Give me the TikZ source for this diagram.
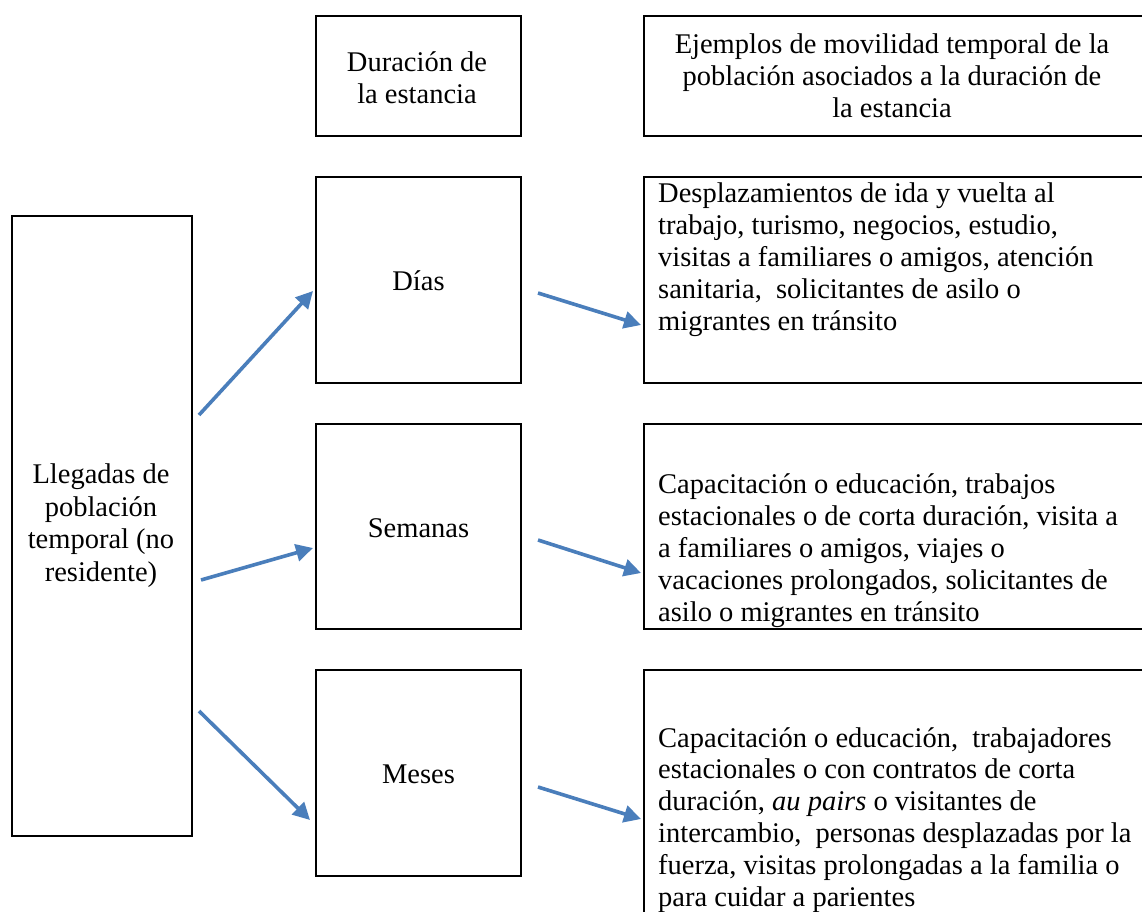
\documentclass[tikz,border=0pt]{standalone}
\usepackage{fontspec}
\setmainfont{Liberation Serif}
\usetikzlibrary{arrows.meta}
\definecolor{arrowblue}{RGB}{74,126,187}
\begin{document}
\begin{tikzpicture}[x=1pt,y=-1pt,
  box/.style={draw=black, line width=2pt, anchor=north west, inner sep=0pt, align=center,
    font=\fontsize{28.5}{32}\selectfont},
  txt/.style={anchor=base west, inner sep=0pt, align=left, font=\fontsize{28.5}{31.8}\selectfont},
  ctxt/.style={anchor=base, inner sep=0pt, align=center, font=\fontsize{28.5}{32}\selectfont},
  flow/.style={draw=arrowblue, line width=3.6pt, -{Triangle[length=17pt,width=17pt]}}]
\clip (0,0) rectangle (1142,911);
\fill[white] (0,0) rectangle (1142,911);

% header row (base anchor = baseline of the last line)
\node[box, minimum width=205pt, minimum height=120pt] (hdur) at (315,15) {};
\node[ctxt] (hdurt) at (417,103) {Duración de\\la estancia};
\node[box, minimum width=520pt, minimum height=120pt] (hej) at (643,15) {};
\node[ctxt, font=\fontsize{28.5}{31.6}\selectfont] (hejt) at (892,117) {Ejemplos de movilidad temporal de la\\población asociados a la duración de\\la estancia};

% left box
\node[box, minimum width=180pt, minimum height=620pt] (left) at (11,215) {};
\node[ctxt, font=\fontsize{28.5}{32.4}\selectfont] (leftt) at (101,581) {Llegadas de\\población\\temporal (no\\residente)};

% middle column
\node[box, minimum width=205pt, minimum height=206pt] (dias) at (315,176) {};
\node[ctxt] (diast) at (dias.center) [yshift=-10pt] {Días};
\node[box, minimum width=205pt, minimum height=205pt] (sem) at (315,423) {};
\node[ctxt] (semt) at (sem.center) [yshift=-11pt] {Semanas};
\node[box, minimum width=205pt, minimum height=206pt] (mes) at (315,669) {};
\node[ctxt] (mest) at (mes.center) [yshift=-10pt] {Meses};

% right column
\node[box, minimum width=520pt, minimum height=206pt] (r1) at (643,176) {};
\node[box, minimum width=520pt, minimum height=205pt] (r2) at (643,423) {};
\node[box, minimum width=520pt, minimum height=300pt] (r3) at (643,669) {};

\node[txt] (r1t) at (658,330) {Desplazamientos de ida y vuelta al\\trabajo, turismo, negocios, estudio,\\visitas a familiares o amigos, atención\\sanitaria,\ \ solicitantes de asilo o\\migrantes en tránsito};
\node[txt] (r2t) at (658,621) {Capacitación o educación, trabajos\\estacionales o de corta duración, visita a\\a familiares o amigos, viajes o\\vacaciones prolongados, solicitantes de\\asilo o migrantes en tránsito};
\node[txt] (r3t) at (658,906) {Capacitación o educación,\ \ trabajadores\\estacionales o con contratos de corta\\duración, \textit{au pairs} o visitantes de\\intercambio,\ \ personas desplazadas por la\\fuerza, visitas prolongadas a la familia o\\para cuidar a parientes};

% arrow end points
\coordinate (a1s) at (199,415);
\coordinate (a1e) at (313,291);
\coordinate (a2s) at (201,580);
\coordinate (a2e) at (313,548);
\coordinate (a3s) at (199,711);
\coordinate (a3e) at (310,820);
\coordinate (b1s) at (538,293);
\coordinate (b1e) at (641,325);
\coordinate (b2s) at (538,540);
\coordinate (b2e) at (641,573);
\coordinate (b3s) at (538,787);
\coordinate (b3e) at (641,819);

\draw[flow] (a1s) -- (a1e);
\draw[flow] (a2s) -- (a2e);
\draw[flow] (a3s) -- (a3e);
\draw[flow] (b1s) -- (b1e);
\draw[flow] (b2s) -- (b2e);
\draw[flow] (b3s) -- (b3e);
\end{tikzpicture}
\end{document}
